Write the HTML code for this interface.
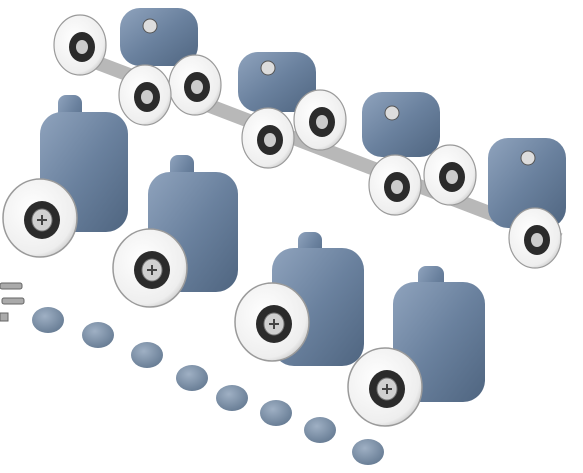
<!DOCTYPE html>
<html><head><meta charset="utf-8"><style>
html,body{margin:0;padding:0;background:#fff;width:583px;height:473px;overflow:hidden}
</style></head><body>
<svg width="583" height="473" viewBox="0 0 583 473" xmlns="http://www.w3.org/2000/svg">
<defs>
<linearGradient id="blue" x1="0" y1="0" x2="1" y2="1"><stop offset="0" stop-color="#8fa3bd"/><stop offset="0.5" stop-color="#6a819e"/><stop offset="1" stop-color="#4f6580"/></linearGradient>
<radialGradient id="wh" cx="0.4" cy="0.4" r="0.7"><stop offset="0" stop-color="#ffffff"/><stop offset="0.8" stop-color="#eeeeee"/><stop offset="1" stop-color="#bdbdbd"/></radialGradient>
<radialGradient id="cap" cx="0.4" cy="0.35" r="0.7"><stop offset="0" stop-color="#9fb0c4"/><stop offset="1" stop-color="#667b93"/></radialGradient>
<g id="wheel">
<ellipse cx="0" cy="0" rx="37" ry="39" fill="url(#wh)" stroke="#9a9a9a" stroke-width="1.5"/>
<ellipse cx="2" cy="2" rx="18" ry="19" fill="#2b2b2b"/>
<ellipse cx="2" cy="2" rx="10" ry="11" fill="#d0d0d0" stroke="#777"/>
<path d="M-3 2h10M2 -3v10" stroke="#444" stroke-width="2"/>
</g>
<g id="swheel">
<ellipse cx="0" cy="0" rx="26" ry="30" fill="url(#wh)" stroke="#9a9a9a" stroke-width="1.2"/>
<ellipse cx="2" cy="2" rx="13" ry="15" fill="#2b2b2b"/>
<ellipse cx="2" cy="2" rx="6" ry="7" fill="#ccc"/>
</g>
</defs>
<rect width="583" height="473" fill="#fff"/>
<g>
<path d="M90 60 L560 240" stroke="#b8b8b8" stroke-width="14"/>
<rect x="120" y="8" width="78" height="58" rx="20" fill="url(#blue)"/>
<rect x="238" y="52" width="78" height="60" rx="20" fill="url(#blue)"/>
<rect x="362" y="92" width="78" height="65" rx="20" fill="url(#blue)"/>
<rect x="488" y="138" width="78" height="90" rx="20" fill="url(#blue)"/>
<circle cx="150" cy="26" r="7" fill="#ddd" stroke="#555"/>
<circle cx="268" cy="68" r="7" fill="#ddd" stroke="#555"/>
<circle cx="392" cy="113" r="7" fill="#ddd" stroke="#555"/>
<circle cx="528" cy="158" r="7" fill="#ddd" stroke="#555"/>
<use href="#swheel" x="80" y="45"/>
<use href="#swheel" x="195" y="85"/>
<use href="#swheel" x="320" y="120"/>
<use href="#swheel" x="450" y="175"/>
<use href="#swheel" x="145" y="95"/>
<use href="#swheel" x="268" y="138"/>
<use href="#swheel" x="395" y="185"/>
<use href="#swheel" x="535" y="238"/>
</g>
<g fill="url(#cap)">
<ellipse cx="48" cy="320" rx="16" ry="13"/>
<ellipse cx="98" cy="335" rx="16" ry="13"/>
<ellipse cx="147" cy="355" rx="16" ry="13"/>
<ellipse cx="192" cy="378" rx="16" ry="13"/>
<ellipse cx="232" cy="398" rx="16" ry="13"/>
<ellipse cx="276" cy="413" rx="16" ry="13"/>
<ellipse cx="320" cy="430" rx="16" ry="13"/>
<ellipse cx="368" cy="452" rx="16" ry="13"/>
</g>
<g fill="#aaa" stroke="#666">
<rect x="0" y="283" width="22" height="6" rx="2"/>
<rect x="2" y="298" width="22" height="6" rx="2"/>
<rect x="0" y="313" width="8" height="8"/>
</g>
<g>
<rect x="58" y="95" width="24" height="45" rx="8" fill="url(#blue)"/>
<rect x="40" y="112" width="88" height="120" rx="22" fill="url(#blue)"/>
<use href="#wheel" x="40" y="218"/>
<rect x="170" y="155" width="24" height="45" rx="8" fill="url(#blue)"/>
<rect x="148" y="172" width="90" height="120" rx="22" fill="url(#blue)"/>
<use href="#wheel" x="150" y="268"/>
<rect x="298" y="232" width="24" height="40" rx="8" fill="url(#blue)"/>
<rect x="272" y="248" width="92" height="118" rx="22" fill="url(#blue)"/>
<use href="#wheel" x="272" y="322"/>
<rect x="418" y="266" width="26" height="45" rx="8" fill="url(#blue)"/>
<rect x="393" y="282" width="92" height="120" rx="22" fill="url(#blue)"/>
<use href="#wheel" x="385" y="387"/>
</g>
</svg>
</body></html>
